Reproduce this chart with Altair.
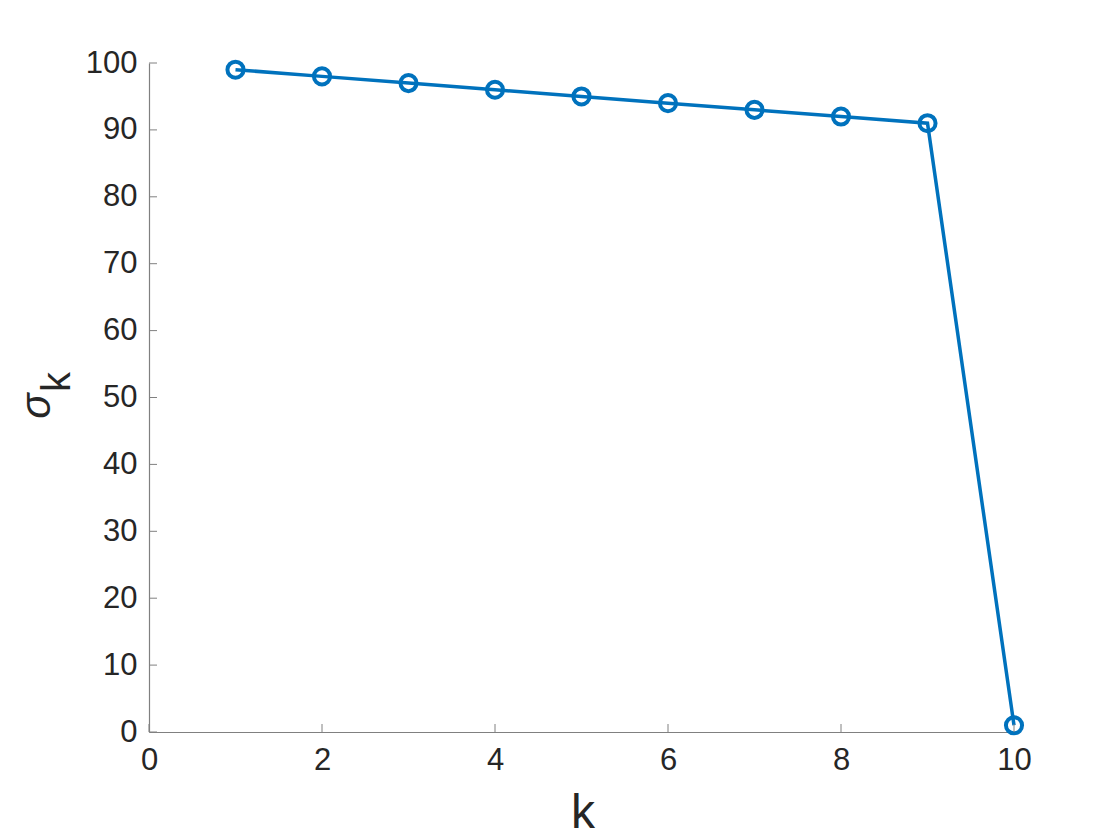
import altair as alt
import pandas as pd

k_vals = [1, 2, 3, 4, 5, 6, 7, 8, 9, 10]
sigma_vals = [99, 98, 97, 96, 95, 94, 93, 92, 91, 1]
x_ticks = [0, 2, 4, 6, 8, 10]
y_ticks = [0, 10, 20, 30, 40, 50, 60, 70, 80, 90, 100]

W, H = 865, 669
FONT = "Liberation Sans"
BLUE = "#0072BD"
AX = "#808080"

df = pd.DataFrame({"k": k_vals, "s": sigma_vals})
xs = alt.Scale(domain=[0, 10], nice=False, zero=False)
ys = alt.Scale(domain=[0, 100], nice=False, zero=False)

xax = alt.Axis(values=x_ticks, title=None, ticks=False, format="d", labelPadding=13)
yax = alt.Axis(values=y_ticks, title=None, ticks=False, format="d", labelPadding=12)

base = alt.Chart(df)
line = base.mark_line(color=BLUE, strokeWidth=3.5).encode(
    x=alt.X("k:Q", scale=xs, axis=xax),
    y=alt.Y("s:Q", scale=ys, axis=yax),
)
pts = base.mark_point(shape="circle", filled=False, color=BLUE, strokeWidth=4, size=260, opacity=1).encode(
    x=alt.X("k:Q", scale=xs, axis=xax), y=alt.Y("s:Q", scale=ys, axis=yax)
)

xt = alt.Chart(pd.DataFrame({"v": x_ticks})).mark_rule(color=AX, strokeWidth=1).encode(
    x=alt.X("v:Q", scale=xs, axis=xax), y=alt.value(H), y2=alt.value(H - 8)
)
yt = alt.Chart(pd.DataFrame({"v": y_ticks})).mark_rule(color=AX, strokeWidth=1).encode(
    y=alt.Y("v:Q", scale=ys, axis=yax), x=alt.value(0), x2=alt.value(8)
)

xlabel = alt.Chart(pd.DataFrame({"t": ["k"]})).mark_text(
    fontSize=48, font=FONT, color="#262626", align="center", baseline="alphabetic"
).encode(text="t:N", x=alt.value(434), y=alt.value(765))

sig = alt.Chart(pd.DataFrame({"t": ["σ"]})).mark_text(
    fontSize=42, font=FONT, fontStyle="italic", color="#262626", align="center",
    baseline="middle", angle=270
).encode(text="t:N", x=alt.value(-112), y=alt.value(343))
sub = alt.Chart(pd.DataFrame({"t": ["k"]})).mark_text(
    fontSize=40, font=FONT, color="#262626", align="center", baseline="middle", angle=270
).encode(text="t:N", x=alt.value(-91), y=alt.value(319))

chart = alt.layer(line, pts, xt, yt, xlabel, sig, sub).properties(
    width=W, height=H,
    autosize=alt.AutoSizeParams(type="none"),
    padding={"left": 141, "top": 55, "right": 90, "bottom": 108},
    background="white",
).configure_view(stroke=None).configure_axis(
    labelFontSize=31, labelFont=FONT, labelColor="#262626",
    domainColor=AX, domainWidth=1.2, grid=False, labelFlush=False,
)

chart.save("out.html", embed_options={"renderer": "svg", "actions": False})
